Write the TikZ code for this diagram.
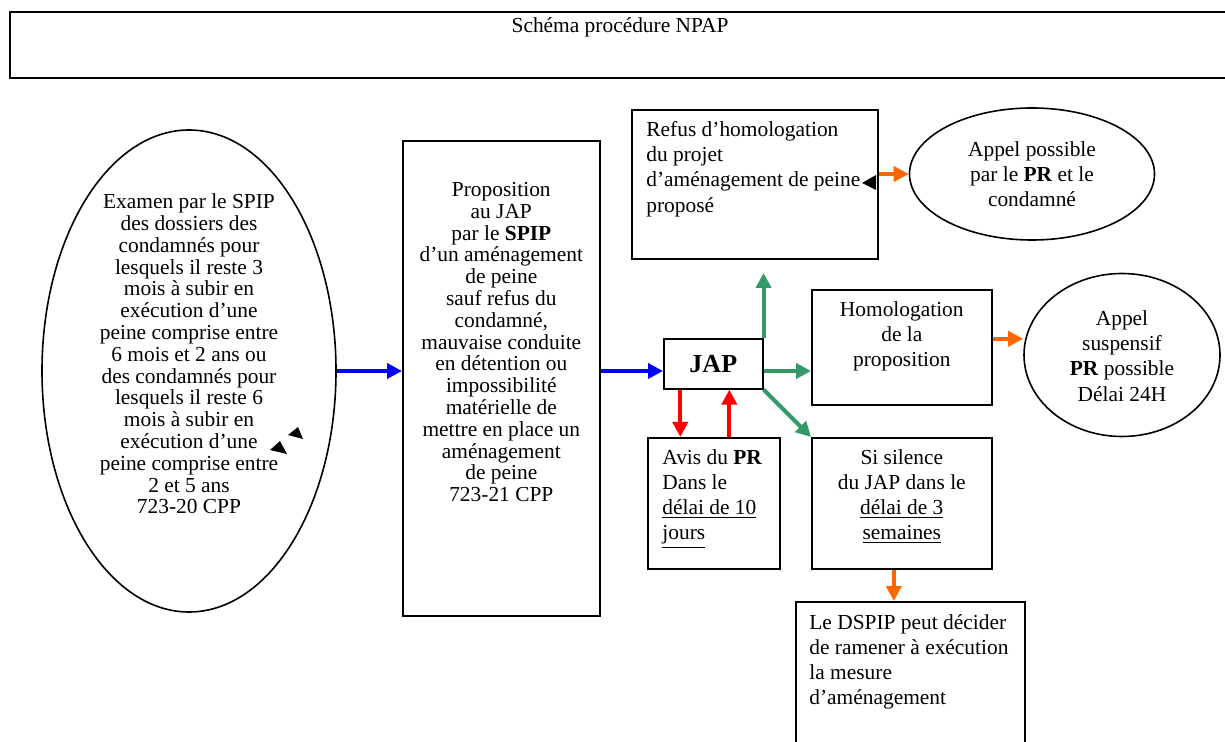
\documentclass[tikz,border=0pt]{standalone}
\usepackage{fontspec}
\setmainfont{Liberation Serif}
\usepackage{tikz}
\usetikzlibrary{shapes.geometric, arrows.meta, positioning}

\definecolor{npapblue}{RGB}{0,0,255}
\definecolor{npapgreen}{RGB}{51,153,102}
\definecolor{npapred}{RGB}{255,0,0}
\definecolor{npaporange}{RGB}{255,102,0}

\tikzset{
  box/.style={draw, line width=0.8pt, anchor=north west, inner sep=0pt},
  oval/.style={draw, ellipse, line width=0.8pt, inner sep=0pt},
  txt/.style={inner sep=0pt, align=center, font=\fontsize{10.7}{12.6}\selectfont},
  txtl/.style={txt, align=left},
  tight/.style={font=\fontsize{10.7}{10.9}\selectfont},
  arr/.style={line width=2pt, -{Triangle[length=7.5pt,width=7.5pt]}},
}

\begin{document}
\begin{tikzpicture}[x=0.5pt, y=-0.5pt]
  \useasboundingbox (0,0) rectangle (1225,742);
  \clip (0,0) rectangle (1225,742);

  % titre
  \node[box, minimum width=615.5pt, minimum height=33pt] (titlebox) at (9,11) {};
  \node[txt] (titletxt) at (620,27) {Schéma procédure NPAP};

  % examen SPIP
  \node[oval, minimum width=147pt, minimum height=241pt] (exam) at (189,371) {};
  \node[txt, tight] (examtxt) at (189,354) {Examen par le SPIP\\des dossiers des\\condamnés pour\\lesquels il reste 3\\mois à subir en\\exécution d’une\\peine comprise entre\\6 mois et 2 ans ou\\des condamnés pour\\lesquels il reste 6\\mois à subir en\\exécution d’une\\peine comprise entre\\2 et 5 ans\\723-20 CPP};

  % proposition
  \node[box, minimum width=98.5pt, minimum height=237.5pt] (prop) at (402,140) {};
  \node[txt, tight, below=21pt of prop.north] (proptxt) {Proposition\\au JAP\\par le \textbf{SPIP}\\d’un aménagement\\de peine\\sauf refus du\\condamné,\\mauvaise conduite\\en détention ou\\impossibilité\\matérielle de\\mettre en place un\\aménagement\\de peine\\723-21 CPP};

  % JAP et avis du PR
  \node[box, minimum width=49.5pt, minimum height=25pt, font=\fontsize{13}{15}\selectfont\bfseries] (jap) at (663,338) {JAP};
  \node[box, minimum width=66pt, minimum height=65.5pt] (avis) at (647,437) {};
  \node[txtl, below right=6pt and 7.5pt of avis.north west] (avistxt) {Avis du \textbf{PR}\\Dans le\\\underline{délai de 10}\\\underline{jours}};

  % refus / homologation / silence
  \node[box, minimum width=123pt, minimum height=74.5pt] (refus) at (631,109) {};
  \node[txtl, below right=6pt and 7.5pt of refus.north west] (refustxt) {Refus d’homologation\\du projet\\d’aménagement de peine\\proposé};
  \node[box, minimum width=90pt, minimum height=57.5pt] (homol) at (811,289) {};
  \node[txt, below=6pt of homol.north] (homoltxt) {Homologation\\de la\\proposition};
  \node[box, minimum width=90pt, minimum height=65.5pt] (silence) at (811,437) {};
  \node[txt, below=6pt of silence.north] (silencetxt) {Si silence\\du JAP dans le\\\underline{délai de 3}\\\underline{semaines}};
  \node[box, minimum width=114.5pt, minimum height=100pt] (dspip) at (795,601) {};
  \node[txtl, below right=6.5pt and 7pt of dspip.north west] (dspiptxt) {Le DSPIP peut décider\\de ramener à exécution\\la mesure\\d’aménagement};

  % appels
  \node[oval, minimum width=122.5pt, minimum height=66pt] (appel1) at (1032,174) {};
  \node[txt] (appel1txt) at (1032,174) {Appel possible\\par le \textbf{PR} et le\\condamné};
  \node[oval, minimum width=98pt, minimum height=81.5pt] (appel2) at (1122,355) {};
  \node[txt] (appel2txt) at (1122,356) {Appel\\suspensif\\\textbf{PR} possible\\Délai 24H};

  \coordinate (refusarr) at ([yshift=32.5pt]jap.north east);

  % fleches
  \draw[arr, npapblue] (exam.east) -- (exam.east -| prop.west);
  \draw[arr, npapblue] (prop.east |- exam.east) -- (jap.west |- exam.east);
  \draw[arr, npapgreen] (jap.east |- exam.east) -- (homol.west |- exam.east);
  \draw[arr, npapgreen] (jap.south east) -- (silence.north west);
  \draw[arr, npapgreen] (jap.north east) -- (refusarr);
  \draw[arr, npapred] ([xshift=-16.5pt]jap.south) -- ([xshift=-16.5pt]jap.south |- avis.north);
  \draw[arr, npapred] ([xshift=8pt]jap.south |- avis.north) -- ([xshift=8pt]jap.south);
  \draw[arr, npaporange] (refus.east |- appel1.west) -- (appel1.west);
  \draw[arr, npaporange] ([yshift=4.25pt]homol.east) -- ([yshift=4.25pt]homol.east -| appel2.west);
  \draw[arr, npaporange] ([xshift=-4pt]silence.south) -- ([xshift=-4pt]silence.south |- dspip.north);

  % petits triangles
  \fill (288,435) -- (303,439) -- (298,427) -- cycle;
  \fill (270,450) -- (287,454) -- (280,441) -- cycle;
  \fill (862,183) -- (876,175) -- (876,190) -- cycle;
\end{tikzpicture}
\end{document}
